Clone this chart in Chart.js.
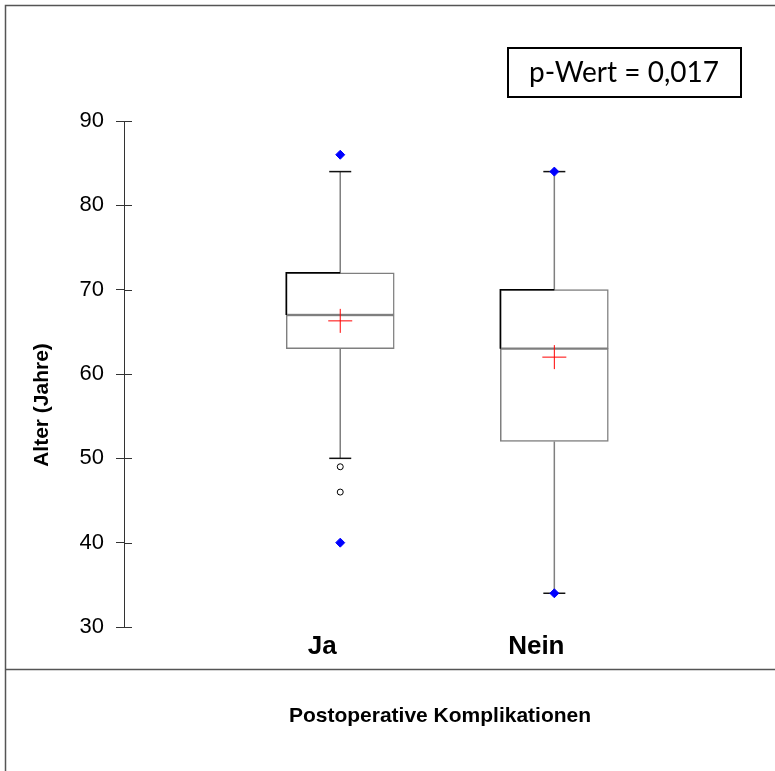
<!DOCTYPE html>
<html>
<head>
<meta charset="utf-8">
<script src="https://cdn.jsdelivr.net/npm/chart.js@4.4.1/dist/chart.umd.min.js"></script>
<style>
  html, body { margin: 0; padding: 0; background: #fff; }
  #wrap { width: 775px; height: 771px; position: relative; }
</style>
</head>
<body>
<div id="wrap"><canvas id="canvas" width="775" height="771"></canvas></div>
<script>
// Werte
const categories = ['Ja', 'Nein'];
const q1 = [63, 52];
const median = [67, 63];
const q3 = [72, 70];
const whiskerLow = [50, 34];
const whiskerHigh = [84, 84];
const means = [66.3, 62.0];
const minValues = [40, 34];
const maxValues = [86, 84];
const outliers = [[49, 46], []];
const yTicks = [30, 40, 50, 60, 70, 80, 90];
const pValue = 'p-Wert = 0,017';

const FONT = '"Liberation Sans", Arial, sans-serif';

const lowerBox = categories.map((c, i) => ({ x: i + 1, y: [q1[i], median[i]] }));
const upperBox = categories.map((c, i) => ({ x: i + 1, y: [median[i], q3[i]] }));

const whiskerLines = [];
categories.forEach((c, i) => {
  whiskerLines.push({ x: i + 1, y: q3[i] }, { x: i + 1, y: whiskerHigh[i] }, { x: i + 1, y: null });
  whiskerLines.push({ x: i + 1, y: q1[i] }, { x: i + 1, y: whiskerLow[i] }, { x: i + 1, y: null });
});
const caps = [];
categories.forEach((c, i) => {
  caps.push({ x: i + 1, y: whiskerHigh[i] }, { x: i + 1, y: whiskerLow[i] });
});
const extremes = [];
categories.forEach((c, i) => {
  extremes.push({ x: i + 1, y: minValues[i] }, { x: i + 1, y: maxValues[i] });
});
const openPoints = [];
outliers.forEach((list, i) => list.forEach(v => openPoints.push({ x: i + 1, y: v })));
const meanPoints = means.map((m, i) => ({ x: i + 1, y: m }));

// Rahmen, Texte und innere Tickstriche
const decor = {
  id: 'decor',
  afterDraw(chart) {
    const ctx = chart.ctx;
    const y = chart.scales.y;
    const x = chart.scales.x;
    ctx.save();

    // schwarze Kanten oben links an den Boxen
    ctx.strokeStyle = '#000';
    ctx.lineWidth = 1.5;
    categories.forEach((c, i) => {
      const cx = x.getPixelForValue(i + 1);
      const left = cx - 54;
      ctx.beginPath();
      ctx.moveTo(left, y.getPixelForValue(median[i]));
      ctx.lineTo(left, y.getPixelForValue(q3[i]));
      ctx.lineTo(cx, y.getPixelForValue(q3[i]));
      ctx.stroke();
    });

    // innere Hälfte der Tickstriche
    ctx.strokeStyle = '#333';
    ctx.lineWidth = 1;
    yTicks.forEach(t => {
      const py = Math.round(y.getPixelForValue(t)) + 0.5;
      ctx.beginPath();
      ctx.moveTo(y.right, py);
      ctx.lineTo(y.right + 8, py);
      ctx.stroke();
    });

    // äußerer Rahmen
    ctx.strokeStyle = '#555';
    ctx.lineWidth = 1.5;
    ctx.beginPath();
    ctx.moveTo(775, 5.5);
    ctx.lineTo(5.5, 5.5);
    ctx.lineTo(5.5, 771);
    ctx.moveTo(5.5, 669.5);
    ctx.lineTo(775, 669.5);
    ctx.stroke();

    // p-Wert Kasten
    ctx.strokeStyle = '#000';
    ctx.lineWidth = 2;
    ctx.strokeRect(508, 48, 233, 49);
    ctx.fillStyle = '#000';
    ctx.font = '28px Lato, "Open Sans", sans-serif';
    ctx.textAlign = 'center';
    ctx.textBaseline = 'middle';
    ctx.fillText(pValue, 624, 73);

    // Achsentitel
    ctx.font = 'bold 21px ' + FONT;
    ctx.fillText('Postoperative Komplikationen', 440, 716);
    ctx.translate(42, 405);
    ctx.rotate(-Math.PI / 2);
    ctx.fillText('Alter (Jahre)', 0, 0);
    ctx.restore();
  }
};

new Chart(document.getElementById('canvas'), {
  type: 'bar',
  data: {
    datasets: [
      {
        type: 'scatter', data: openPoints, order: 0,
        pointStyle: 'circle', pointRadius: 3, pointBackgroundColor: '#fff',
        pointBorderColor: '#000', pointBorderWidth: 1
      },
      {
        type: 'scatter', data: extremes, order: 0,
        pointStyle: 'rectRot', pointRadius: 4.5, pointBackgroundColor: '#0000ff',
        pointBorderColor: '#0000ff', pointBorderWidth: 1
      },
      {
        type: 'scatter', data: meanPoints, order: 1,
        pointStyle: 'cross', pointRadius: 12, pointBorderColor: '#ff0000',
        pointBorderWidth: 1
      },
      {
        type: 'scatter', data: caps, order: 2,
        pointStyle: 'line', pointRadius: 11, pointBorderColor: '#111',
        pointBorderWidth: 1.5
      },
      {
        data: lowerBox, order: 3, grouped: false, barThickness: 108,
        backgroundColor: '#fff', borderColor: '#7f7f7f', borderWidth: 1.5,
        borderSkipped: false
      },
      {
        data: upperBox, order: 3, grouped: false, barThickness: 108,
        backgroundColor: '#fff', borderColor: '#7f7f7f', borderWidth: 1.5,
        borderSkipped: false
      },
      {
        type: 'line', data: whiskerLines, order: 4, spanGaps: false,
        borderColor: '#7f7f7f', borderWidth: 1.5, pointRadius: 0, fill: false
      }
    ]
  },
  options: {
    responsive: false,
    animation: false,
    layout: { padding: { left: 0, top: 121, right: 6, bottom: 104 } },
    plugins: { legend: { display: false }, tooltip: { enabled: false } },
    scales: {
      x: {
        type: 'linear', min: -0.01, max: 2.97, offset: false,
        afterFit(scale) { scale.height = 40; },
        grid: { display: false },
        border: { display: false },
        ticks: {
          stepSize: 1, color: '#000', padding: -4, labelOffset: -18,
          font: { family: FONT, size: 26, weight: 'bold' },
          callback: v => categories[v - 1] || ''
        }
      },
      y: {
        min: 30, max: 90,
        afterFit(scale) { scale.width = 124; },
        afterBuildTicks(scale) { scale.ticks = yTicks.map(v => ({ value: v })); },
        grid: { drawOnChartArea: false, drawTicks: true, tickLength: 8, color: '#333' },
        border: { display: true, color: '#333', width: 1 },
        ticks: {
          color: '#000', padding: 12,
          font: { family: FONT, size: 22 }
        }
      }
    }
  },
  plugins: [decor]
});
</script>
</body>
</html>
